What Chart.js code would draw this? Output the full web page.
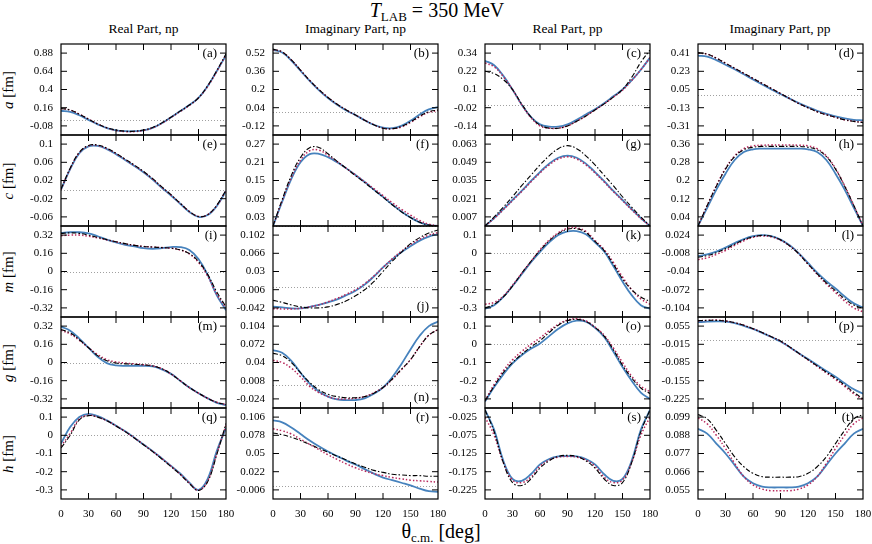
<!DOCTYPE html>
<html>
<head>
<meta charset="utf-8">
<script src="https://cdn.jsdelivr.net/npm/chart.js@4.4.1/dist/chart.umd.min.js"></script>
<style>
  body { margin: 0; background: #fff; }
  #fig { position: relative; width: 872px; height: 544px; font-family: "Liberation Serif", "Times New Roman", serif; color: #000; overflow: hidden; }
  #fig canvas { position: absolute; }
  .txt { position: absolute; white-space: nowrap; line-height: 1; }
  .head { font-size: 13.5px; top: 22px; transform: translateX(-50%); }
  .ylab { font-size: 15px; left: 8px; transform: translate(-50%, -50%) rotate(-90deg); }
  .sub { font-size: 0.65em; position: relative; top: 0.3em; }
</style>
</head>
<body>
<div id="fig">
  <div class="txt" style="left:437px; top:0px; font-size:20px; transform:translateX(-50%);"><i>T</i><span class="sub">LAB</span> = 350 MeV</div>
  <div class="txt head" style="left:143.5px;">Real Part, np</div>
  <div class="txt head" style="left:355.5px;">Imaginary Part, np</div>
  <div class="txt head" style="left:567.5px;">Real Part, pp</div>
  <div class="txt head" style="left:780px;">Imaginary Part, pp</div>
  <div class="txt ylab" style="top:89.5px;"><i>a</i> [fm]</div>
  <div class="txt ylab" style="top:180.5px;"><i>c</i> [fm]</div>
  <div class="txt ylab" style="top:271.5px;"><i>m</i> [fm]</div>
  <div class="txt ylab" style="top:362.5px;"><i>g</i> [fm]</div>
  <div class="txt ylab" style="top:453.5px;"><i>h</i> [fm]</div>
  <div class="txt" style="left:441px; top:521px; font-size:20px; transform:translateX(-50%);">θ<span class="sub">c.m.</span> [deg]</div>
</div>
<script>
const ANGLES = [0, 10, 20, 30, 40, 50, 60, 70, 80, 90, 100, 110, 120, 130, 140, 150, 160, 170, 180];
const X_LABELS = [0, 30, 60, 90, 120, 150, 180];
const X_MARKS = [30, 60, 90, 120, 150];

// row 1: a [fm]
const aTicks = [0.88, 0.64, 0.4, 0.16, -0.08];
const aBlue = [0.12, 0.105, 0.06, 0.0, -0.06, -0.11, -0.14, -0.15, -0.15, -0.14, -0.105, -0.045, 0.035, 0.115, 0.195, 0.29, 0.445, 0.645, 0.85];
const aRed  = [0.15, 0.13, 0.075, 0.01, -0.055, -0.105, -0.14, -0.155, -0.155, -0.14, -0.105, -0.045, 0.03, 0.11, 0.19, 0.29, 0.44, 0.64, 0.86];
const aDash = [0.15, 0.13, 0.075, 0.01, -0.055, -0.105, -0.135, -0.15, -0.15, -0.135, -0.1, -0.04, 0.035, 0.115, 0.195, 0.29, 0.45, 0.65, 0.87];

const bTicks = [0.52, 0.36, 0.2, 0.04, -0.12];
const bBlue = [0.55, 0.525, 0.455, 0.365, 0.275, 0.195, 0.125, 0.065, 0.015, -0.025, -0.07, -0.11, -0.135, -0.14, -0.12, -0.075, -0.02, 0.025, 0.045];
const bRed  = [0.55, 0.53, 0.46, 0.37, 0.28, 0.2, 0.13, 0.07, 0.02, -0.025, -0.07, -0.11, -0.14, -0.145, -0.13, -0.09, -0.04, 0.0, 0.015];
const bDash = [0.555, 0.53, 0.46, 0.37, 0.28, 0.2, 0.13, 0.07, 0.02, -0.025, -0.07, -0.11, -0.14, -0.145, -0.125, -0.085, -0.035, 0.005, 0.02];

const cTicks = [0.34, 0.22, 0.1, -0.02, -0.14];
const cBlue = [0.29, 0.26, 0.19, 0.1, 0.0, -0.08, -0.13, -0.145, -0.145, -0.13, -0.1, -0.065, -0.03, 0.01, 0.055, 0.1, 0.16, 0.23, 0.31];
const cRed  = [0.275, 0.25, 0.185, 0.1, 0.0, -0.085, -0.14, -0.155, -0.155, -0.14, -0.11, -0.075, -0.035, 0.005, 0.05, 0.095, 0.16, 0.23, 0.31];
const cDash = [0.22, 0.205, 0.165, 0.1, 0.005, -0.08, -0.135, -0.155, -0.155, -0.14, -0.11, -0.075, -0.035, 0.005, 0.05, 0.1, 0.18, 0.28, 0.36];

const dTicks = [0.41, 0.23, 0.05, -0.13, -0.31];
const dBlue = [0.385, 0.375, 0.34, 0.295, 0.25, 0.2, 0.15, 0.1, 0.05, 0.005, -0.04, -0.085, -0.125, -0.16, -0.19, -0.215, -0.235, -0.25, -0.255];
const dRed  = [0.41, 0.4, 0.36, 0.31, 0.26, 0.21, 0.16, 0.11, 0.06, 0.01, -0.04, -0.09, -0.13, -0.17, -0.2, -0.225, -0.25, -0.265, -0.275];
const dDash = [0.415, 0.4, 0.36, 0.31, 0.26, 0.21, 0.16, 0.11, 0.06, 0.01, -0.04, -0.09, -0.13, -0.17, -0.2, -0.225, -0.25, -0.265, -0.278];

// row 2: c [fm]
const eTicks = [0.1, 0.06, 0.02, -0.02, -0.06];
const eBlue = [0.0, 0.045, 0.08, 0.095, 0.096, 0.089, 0.078, 0.065, 0.052, 0.038, 0.022, 0.004, -0.013, -0.031, -0.049, -0.06, -0.056, -0.036, -0.003];
const eRed  = [0.0, 0.046, 0.081, 0.096, 0.097, 0.09, 0.079, 0.066, 0.053, 0.039, 0.023, 0.005, -0.012, -0.03, -0.048, -0.059, -0.055, -0.035, -0.002];
const eDash = [0.001, 0.047, 0.082, 0.097, 0.098, 0.091, 0.08, 0.067, 0.054, 0.04, 0.024, 0.006, -0.011, -0.03, -0.048, -0.059, -0.055, -0.034, -0.001];

const fTicks = [0.27, 0.21, 0.15, 0.09, 0.03];
const fBlue = [0.0, 0.08, 0.155, 0.21, 0.237, 0.238, 0.227, 0.21, 0.19, 0.168, 0.145, 0.12, 0.096, 0.071, 0.048, 0.028, 0.012, 0.003, 0.0];
const fRed  = [0.0, 0.083, 0.16, 0.217, 0.248, 0.25, 0.233, 0.212, 0.19, 0.168, 0.146, 0.123, 0.1, 0.077, 0.055, 0.036, 0.018, 0.006, 0.0];
const fDash = [0.0, 0.087, 0.167, 0.226, 0.258, 0.259, 0.238, 0.213, 0.19, 0.166, 0.143, 0.119, 0.095, 0.07, 0.047, 0.028, 0.012, 0.003, 0.0];

const gTicks = [0.063, 0.049, 0.035, 0.021, 0.007];
const gBlue = [0.0, 0.006, 0.013, 0.02, 0.027, 0.0345, 0.0415, 0.048, 0.0525, 0.0542, 0.0525, 0.048, 0.0415, 0.0345, 0.027, 0.02, 0.013, 0.006, 0.0];
const gRed  = [0.0, 0.0058, 0.0125, 0.0195, 0.0265, 0.0338, 0.0408, 0.047, 0.0515, 0.0532, 0.0515, 0.047, 0.0408, 0.0338, 0.0265, 0.0195, 0.0125, 0.0058, 0.0];
const gDash = [0.0, 0.007, 0.0145, 0.0225, 0.031, 0.039, 0.047, 0.054, 0.0595, 0.0618, 0.0595, 0.054, 0.047, 0.039, 0.031, 0.0225, 0.0145, 0.007, 0.0];

const hTicks = [0.36, 0.28, 0.2, 0.12, 0.04];
const hBlue = [0.0, 0.08, 0.16, 0.23, 0.29, 0.325, 0.337, 0.34, 0.34, 0.34, 0.34, 0.34, 0.337, 0.325, 0.29, 0.23, 0.16, 0.08, 0.0];
const hRed  = [0.0, 0.09, 0.177, 0.253, 0.308, 0.34, 0.352, 0.355, 0.356, 0.356, 0.356, 0.355, 0.352, 0.34, 0.308, 0.253, 0.177, 0.09, 0.0];
const hDash = [0.0, 0.09, 0.175, 0.25, 0.305, 0.335, 0.346, 0.35, 0.35, 0.35, 0.35, 0.35, 0.346, 0.335, 0.305, 0.25, 0.175, 0.09, 0.0];

// row 3: m [fm]
const iTicks = [0.32, 0.16, 0, -0.16, -0.32];
const iBlue = [0.34, 0.345, 0.345, 0.335, 0.31, 0.28, 0.255, 0.235, 0.22, 0.205, 0.2, 0.205, 0.215, 0.215, 0.19, 0.11, -0.03, -0.21, -0.34];
const iRed  = [0.315, 0.32, 0.32, 0.31, 0.295, 0.278, 0.26, 0.243, 0.23, 0.22, 0.215, 0.21, 0.205, 0.19, 0.155, 0.08, -0.04, -0.2, -0.32];
const iDash = [0.335, 0.34, 0.335, 0.32, 0.3, 0.28, 0.262, 0.245, 0.23, 0.22, 0.215, 0.21, 0.205, 0.19, 0.158, 0.088, -0.025, -0.18, -0.31];

const jTicks = [0.102, 0.066, 0.03, -0.006, -0.042];
const jBlue = [-0.0395, -0.041, -0.043, -0.043, -0.04, -0.036, -0.031, -0.025, -0.017, -0.008, 0.004, 0.02, 0.038, 0.054, 0.068, 0.08, 0.091, 0.099, 0.104];
const jRed  = [-0.0435, -0.044, -0.044, -0.043, -0.04, -0.036, -0.03, -0.023, -0.015, -0.006, 0.006, 0.021, 0.038, 0.055, 0.07, 0.083, 0.094, 0.102, 0.107];
const jDash = [-0.027, -0.031, -0.036, -0.04, -0.042, -0.042, -0.04, -0.035, -0.028, -0.018, -0.006, 0.01, 0.03, 0.05, 0.068, 0.085, 0.097, 0.106, 0.112];

const kTicks = [0.1, 0, -0.1, -0.2, -0.3];
const kBlue = [-0.305, -0.285, -0.24, -0.18, -0.115, -0.05, 0.008, 0.06, 0.1, 0.12, 0.122, 0.105, 0.06, 0.01, -0.07, -0.155, -0.23, -0.285, -0.305];
const kRed  = [-0.28, -0.27, -0.235, -0.175, -0.11, -0.045, 0.02, 0.073, 0.113, 0.137, 0.14, 0.12, 0.07, 0.02, -0.05, -0.13, -0.2, -0.25, -0.28];
const kDash = [-0.3, -0.28, -0.24, -0.18, -0.11, -0.045, 0.015, 0.068, 0.108, 0.132, 0.135, 0.115, 0.065, 0.015, -0.06, -0.14, -0.2, -0.24, -0.265];

const lTicks = [0.024, -0.008, -0.04, -0.072, -0.104];
const lBlue = [-0.013, -0.01, -0.005, 0.002, 0.01, 0.017, 0.022, 0.024, 0.022, 0.016, 0.006, -0.008, -0.025, -0.042, -0.057, -0.07, -0.084, -0.096, -0.103];
const lRed  = [-0.019, -0.016, -0.01, -0.003, 0.006, 0.014, 0.02, 0.0225, 0.021, 0.015, 0.005, -0.009, -0.027, -0.045, -0.062, -0.077, -0.092, -0.104, -0.111];
const lDash = [-0.015, -0.012, -0.007, 0.0, 0.008, 0.016, 0.021, 0.0235, 0.022, 0.016, 0.005, -0.009, -0.027, -0.044, -0.06, -0.074, -0.088, -0.099, -0.105];

// row 4: g [fm]
const mTicks = [0.32, 0.16, 0, -0.16, -0.32];
const mBlue = [0.315, 0.28, 0.21, 0.13, 0.05, -0.005, -0.025, -0.03, -0.03, -0.03, -0.035, -0.06, -0.1, -0.16, -0.22, -0.27, -0.315, -0.355, -0.375];
const mRed  = [0.285, 0.25, 0.195, 0.13, 0.07, 0.025, 0.005, -0.005, -0.012, -0.02, -0.03, -0.055, -0.1, -0.16, -0.22, -0.27, -0.315, -0.35, -0.37];
const mDash = [0.29, 0.26, 0.2, 0.13, 0.06, 0.015, -0.005, -0.012, -0.015, -0.02, -0.03, -0.055, -0.1, -0.16, -0.22, -0.27, -0.315, -0.35, -0.37];

const nTicks = [0.104, 0.072, 0.04, 0.008, -0.024];
const nBlue = [0.062, 0.057, 0.043, 0.022, 0.003, -0.011, -0.02, -0.025, -0.026, -0.026, -0.023, -0.015, -0.004, 0.014, 0.037, 0.063, 0.087, 0.104, 0.112];
const nRed  = [0.044, 0.04, 0.03, 0.015, -0.002, -0.013, -0.02, -0.024, -0.024, -0.023, -0.02, -0.013, -0.004, 0.01, 0.027, 0.045, 0.068, 0.088, 0.098];
const nDash = [0.056, 0.052, 0.04, 0.022, 0.005, -0.008, -0.016, -0.02, -0.022, -0.022, -0.02, -0.014, -0.004, 0.011, 0.028, 0.045, 0.068, 0.088, 0.098];

const oTicks = [0.1, 0, -0.1, -0.2, -0.3];
const oBlue = [-0.315, -0.235, -0.165, -0.105, -0.06, -0.025, 0.005, 0.045, 0.085, 0.115, 0.13, 0.125, 0.09, 0.04, -0.04, -0.125, -0.2, -0.265, -0.3];
const oRed  = [-0.31, -0.22, -0.145, -0.085, -0.04, 0.0, 0.035, 0.075, 0.11, 0.133, 0.14, 0.128, 0.095, 0.05, -0.02, -0.1, -0.175, -0.23, -0.26];
const oDash = [-0.31, -0.23, -0.155, -0.1, -0.055, -0.015, 0.02, 0.065, 0.105, 0.13, 0.137, 0.125, 0.093, 0.045, -0.03, -0.115, -0.185, -0.24, -0.27];

const pTicks = [0.055, -0.015, -0.085, -0.155, -0.225];
const pBlue = [0.07, 0.072, 0.073, 0.072, 0.066, 0.056, 0.044, 0.029, 0.013, -0.004, -0.026, -0.049, -0.072, -0.095, -0.118, -0.14, -0.165, -0.188, -0.205];
const pRed  = [0.075, 0.077, 0.078, 0.075, 0.068, 0.058, 0.045, 0.03, 0.014, -0.003, -0.026, -0.05, -0.075, -0.1, -0.125, -0.15, -0.177, -0.205, -0.228];
const pDash = [0.076, 0.077, 0.077, 0.075, 0.068, 0.058, 0.045, 0.03, 0.014, -0.002, -0.025, -0.05, -0.074, -0.098, -0.122, -0.146, -0.172, -0.2, -0.224];

// row 5: h [fm]
const qTicks = [0.1, 0, -0.1, -0.2, -0.3];
const qBlue = [-0.045, 0.045, 0.1, 0.118, 0.105, 0.082, 0.053, 0.022, -0.013, -0.05, -0.087, -0.127, -0.168, -0.21, -0.26, -0.3, -0.24, -0.085, 0.04];
const qRed  = [-0.06, 0.01, 0.09, 0.11, 0.1, 0.08, 0.052, 0.021, -0.014, -0.051, -0.088, -0.128, -0.17, -0.213, -0.262, -0.302, -0.25, -0.1, 0.055];
const qDash = [-0.07, 0.0, 0.085, 0.108, 0.1, 0.08, 0.051, 0.02, -0.015, -0.052, -0.09, -0.13, -0.172, -0.215, -0.265, -0.303, -0.255, -0.105, 0.065];

const rTicks = [0.106, 0.078, 0.05, 0.022, -0.006];
const rBlue = [0.101, 0.098, 0.09, 0.08, 0.07, 0.061, 0.053, 0.046, 0.039, 0.033, 0.026, 0.019, 0.013, 0.009, 0.005, 0.001, -0.004, -0.008, -0.009];
const rRed  = [0.088, 0.085, 0.08, 0.072, 0.064, 0.056, 0.048, 0.041, 0.034, 0.028, 0.023, 0.019, 0.016, 0.013, 0.011, 0.009, 0.008, 0.007, 0.006];
const rDash = [0.0815, 0.079, 0.075, 0.07, 0.064, 0.058, 0.052, 0.046, 0.04, 0.034, 0.029, 0.024, 0.021, 0.018, 0.017, 0.016, 0.016, 0.015, 0.015];

const sTicks = [-0.025, -0.075, -0.125, -0.175, -0.225];
const sBlue = [-0.005, -0.06, -0.145, -0.195, -0.2, -0.182, -0.155, -0.14, -0.133, -0.132, -0.133, -0.14, -0.155, -0.182, -0.2, -0.195, -0.145, -0.06, -0.005];
const sRed  = [-0.025, -0.075, -0.15, -0.198, -0.205, -0.19, -0.16, -0.143, -0.135, -0.133, -0.135, -0.143, -0.16, -0.19, -0.205, -0.198, -0.15, -0.075, -0.025];
const sDash = [-0.005, -0.065, -0.15, -0.205, -0.213, -0.195, -0.165, -0.145, -0.133, -0.13, -0.133, -0.145, -0.165, -0.195, -0.213, -0.205, -0.15, -0.065, -0.005];

const tTicks = [0.099, 0.088, 0.077, 0.066, 0.055];
const tBlue = [0.092, 0.089, 0.083, 0.077, 0.07, 0.063, 0.059, 0.057, 0.0565, 0.0565, 0.0565, 0.057, 0.059, 0.063, 0.07, 0.077, 0.083, 0.089, 0.092];
const tRed  = [0.0985, 0.095, 0.088, 0.08, 0.071, 0.063, 0.058, 0.0555, 0.0545, 0.0545, 0.0545, 0.0555, 0.058, 0.063, 0.071, 0.08, 0.088, 0.095, 0.0985];
const tDash = [0.1005, 0.098, 0.091, 0.083, 0.075, 0.069, 0.065, 0.063, 0.0627, 0.0627, 0.0627, 0.063, 0.065, 0.069, 0.075, 0.083, 0.091, 0.098, 0.1005];

const panels = [
  ['a', aTicks, aBlue, aRed, aDash], ['b', bTicks, bBlue, bRed, bDash], ['c', cTicks, cBlue, cRed, cDash], ['d', dTicks, dBlue, dRed, dDash],
  ['e', eTicks, eBlue, eRed, eDash], ['f', fTicks, fBlue, fRed, fDash], ['g', gTicks, gBlue, gRed, gDash], ['h', hTicks, hBlue, hRed, hDash],
  ['i', iTicks, iBlue, iRed, iDash], ['j', jTicks, jBlue, jRed, jDash], ['k', kTicks, kBlue, kRed, kDash], ['l', lTicks, lBlue, lRed, lDash],
  ['m', mTicks, mBlue, mRed, mDash], ['n', nTicks, nBlue, nRed, nDash], ['o', oTicks, oBlue, oRed, oDash], ['p', pTicks, pBlue, pRed, pDash],
  ['q', qTicks, qBlue, qRed, qDash], ['r', rTicks, rBlue, rRed, rDash], ['s', sTicks, sBlue, sRed, sDash], ['t', tTicks, tBlue, tRed, tDash]
];
const LOW_LABEL = ['j', 'n']; // letter sits in the lower corner

// layout of the grid
const COL_LEFT = [61, 273, 485, 698];
const ROW_TOP = [44, 135, 226, 317, 408];
const PANEL_W = 165, PANEL_H = 91;
const AXIS_W = 46, PAD = 4, XAXIS_H = 30;

Chart.defaults.font.family = '"Liberation Serif", "Times New Roman", serif';
Chart.defaults.font.size = 11;
Chart.defaults.color = '#000';

// frame, inner tick marks, zero line and panel letter (gnuplot look)
const framePlugin = {
  id: 'frame',
  beforeDatasetsDraw(chart) {
    const { ctx, chartArea: a, scales: { y } } = chart;
    if (y.min < 0 && y.max > 0) {
      const py = Math.round(y.getPixelForValue(0)) + 0.5;
      ctx.save();
      ctx.strokeStyle = '#a0a0a0';
      ctx.lineWidth = 1;
      ctx.setLineDash([1, 2]);
      ctx.beginPath();
      ctx.moveTo(a.left, py);
      ctx.lineTo(a.right, py);
      ctx.stroke();
      ctx.restore();
    }
  },
  afterDatasetsDraw(chart, args, opts) {
    const { ctx, chartArea: a, scales: { x, y } } = chart;
    ctx.save();
    ctx.strokeStyle = '#000';
    ctx.lineWidth = 1.2;
    ctx.strokeRect(a.left, a.top, a.right - a.left, a.bottom - a.top);
    ctx.lineWidth = 1;
    ctx.beginPath();
    X_MARKS.forEach(v => {
      const px = x.getPixelForValue(v);
      ctx.moveTo(px, a.top); ctx.lineTo(px, a.top + 6);
      ctx.moveTo(px, a.bottom); ctx.lineTo(px, a.bottom - 6);
    });
    y.ticks.forEach(t => {
      const py = y.getPixelForValue(t.value);
      ctx.moveTo(a.left, py); ctx.lineTo(a.left + 6, py);
      ctx.moveTo(a.right, py); ctx.lineTo(a.right - 6, py);
    });
    ctx.stroke();
    ctx.font = '13px "Liberation Serif", serif';
    ctx.fillStyle = '#000';
    ctx.textAlign = 'right';
    ctx.textBaseline = 'middle';
    ctx.fillText('(' + opts.letter + ')', a.right - 9, opts.low ? a.bottom - 10 : a.top + 10);
    ctx.restore();
  }
};

const fig = document.getElementById('fig');

panels.forEach(([letter, ticks, blue, red, dash], k) => {
  const col = k % 4, row = Math.floor(k / 4);
  const bottom = row === 4;
  const padR = bottom ? 12 : 3;
  const canvas = document.createElement('canvas');
  canvas.width = AXIS_W + PANEL_W + padR;
  canvas.height = PAD + PANEL_H + (bottom ? XAXIS_H : PAD);
  canvas.style.left = (COL_LEFT[col] - AXIS_W) + 'px';
  canvas.style.top = (ROW_TOP[row] - PAD) + 'px';
  fig.appendChild(canvas);

  const step = ticks[0] - ticks[1];
  const pts = vals => ANGLES.map((a, i) => ({ x: a, y: vals[i] }));

  new Chart(canvas, {
    type: 'line',
    data: {
      datasets: [
        { data: pts(dash), borderColor: '#000', borderWidth: 1.1, borderDash: [5, 2, 1.5, 2] },
        { data: pts(red), borderColor: '#b8285c', borderWidth: 1.5, borderDash: [1.5, 2] },
        { data: pts(blue), borderColor: '#4682bd', borderWidth: 1.8 }
      ]
    },
    options: {
      responsive: false,
      animation: false,
      events: [],
      layout: { padding: { left: 0, top: PAD, right: padR, bottom: bottom ? 0 : PAD } },
      elements: { point: { radius: 0 }, line: { tension: 0.4, fill: false } },
      plugins: {
        legend: { display: false },
        tooltip: { enabled: false },
        frame: { letter: letter, low: LOW_LABEL.includes(letter) }
      },
      scales: {
        x: {
          type: 'linear', min: 0, max: 180, display: bottom,
          grid: { display: false, drawTicks: false },
          border: { display: false },
          ticks: { padding: 9, autoSkip: false, maxRotation: 0, font: { size: 11 }, callback: v => String(v) },
          afterBuildTicks: s => { s.ticks = X_LABELS.map(v => ({ value: v })); },
          afterFit: s => {
            s.height = bottom ? XAXIS_H : 0;
            s.paddingLeft = 0; s.paddingRight = 0;
          }
        },
        y: {
          type: 'linear',
          min: ticks[ticks.length - 1] - step / 2,
          max: ticks[0] + step / 2,
          grid: { display: false, drawTicks: false },
          border: { display: false },
          ticks: { padding: 8, autoSkip: false, font: { size: 11 }, callback: v => String(v) },
          afterBuildTicks: s => { s.ticks = ticks.map(v => ({ value: v })); },
          afterFit: s => {
            s.width = AXIS_W;
            s.paddingTop = 0; s.paddingBottom = 0;
          }
        }
      }
    },
    plugins: [framePlugin]
  });
});
</script>
</body>
</html>
